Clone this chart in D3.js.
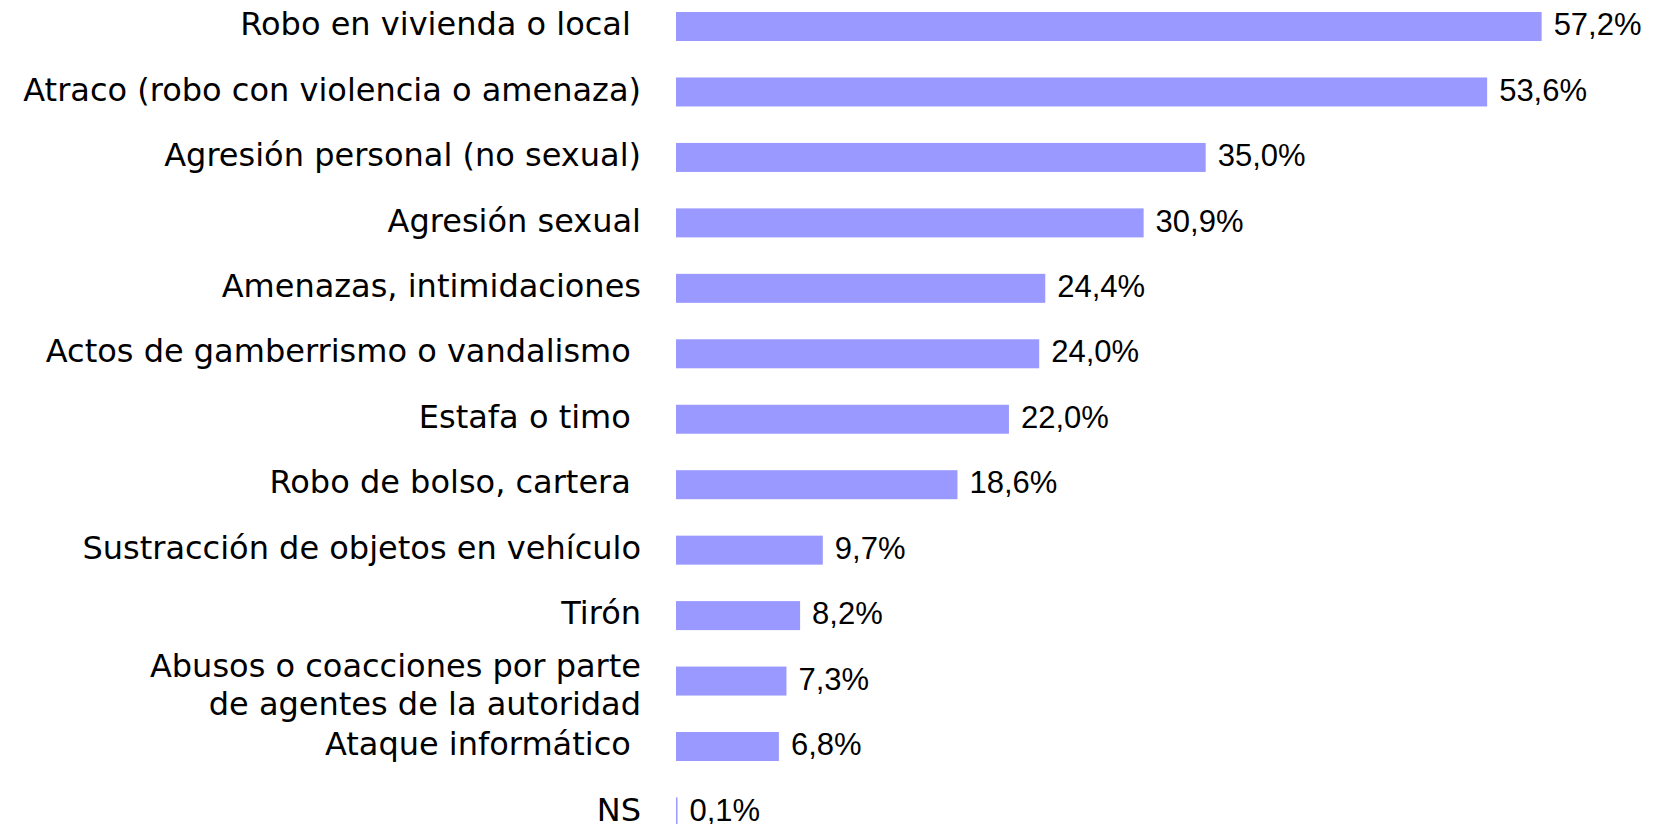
<!DOCTYPE html>
<html>
<head>
<meta charset="utf-8">
<script src="https://cdn.jsdelivr.net/npm/d3@7"></script>
<style>
  html, body { margin: 0; padding: 0; background: #fff; }
  svg { display: block; }
  text { white-space: pre; }
</style>
</head>
<body>
<script>
const categories = [
  "Robo en vivienda o local ",
  "Atraco (robo con violencia o amenaza)",
  "Agresión personal (no sexual)",
  "Agresión sexual",
  "Amenazas, intimidaciones",
  "Actos de gamberrismo o vandalismo ",
  "Estafa o timo ",
  "Robo de bolso, cartera ",
  "Sustracción de objetos en vehículo",
  "Tirón",
  "Abusos o coacciones por parte\nde agentes de la autoridad",
  "Ataque informático ",
  "NS"
];
const values = [57.2, 53.6, 35.0, 30.9, 24.4, 24.0, 22.0, 18.6, 9.7, 8.2, 7.3, 6.8, 0.1];

const W = 1653, H = 824;
const svg = d3.select("body").append("svg").attr("width", W).attr("height", H);

const x = d3.scaleLinear().domain([0, 60]).range([676, 1584]);
const y = d3.scaleBand().domain(categories).range([-6.2, 844.7])
  .paddingInner(0.557).paddingOuter(0.2785);

const data = categories.map((c, i) => ({ c, v: values[i] }));

svg.append("g").selectAll("rect").data(data).join("rect")
  .attr("x", x(0))
  .attr("y", d => y(d.c))
  .attr("width", d => x(d.v) - x(0))
  .attr("height", y.bandwidth())
  .attr("fill", "#9999FF");

const labelX = x(0) - 35;
const lbl = svg.append("g").selectAll("text").data(data).join("text")
  .attr("x", labelX)
  .attr("y", d => y(d.c) + y.bandwidth() / 2)
  .attr("text-anchor", "end")
  .attr("font-family", "DejaVu Sans")
  .attr("font-size", 32)
  .attr("fill", "#000");
lbl.each(function(d) {
  const lines = d.c.split("\n");
  const t = d3.select(this);
  lines.forEach((ln, k) => {
    t.append("tspan")
      .attr("x", labelX)
      .attr("dy", k === 0 ? (lines.length > 1 ? "-0.14em" : "0.27em") : "1.19em")
      .text(ln);
  });
});

const fmt = v => v.toFixed(1).replace(".", ",") + "%";
svg.append("g").selectAll("text").data(data).join("text")
  .attr("x", d => x(d.v) + 12)
  .attr("y", d => y(d.c) + y.bandwidth() / 2)
  .attr("dy", "0.28em")
  .attr("font-family", "Liberation Sans")
  .attr("font-size", 31)
  .attr("fill", "#000")
  .text(d => fmt(d.v));
</script>
</body>
</html>
